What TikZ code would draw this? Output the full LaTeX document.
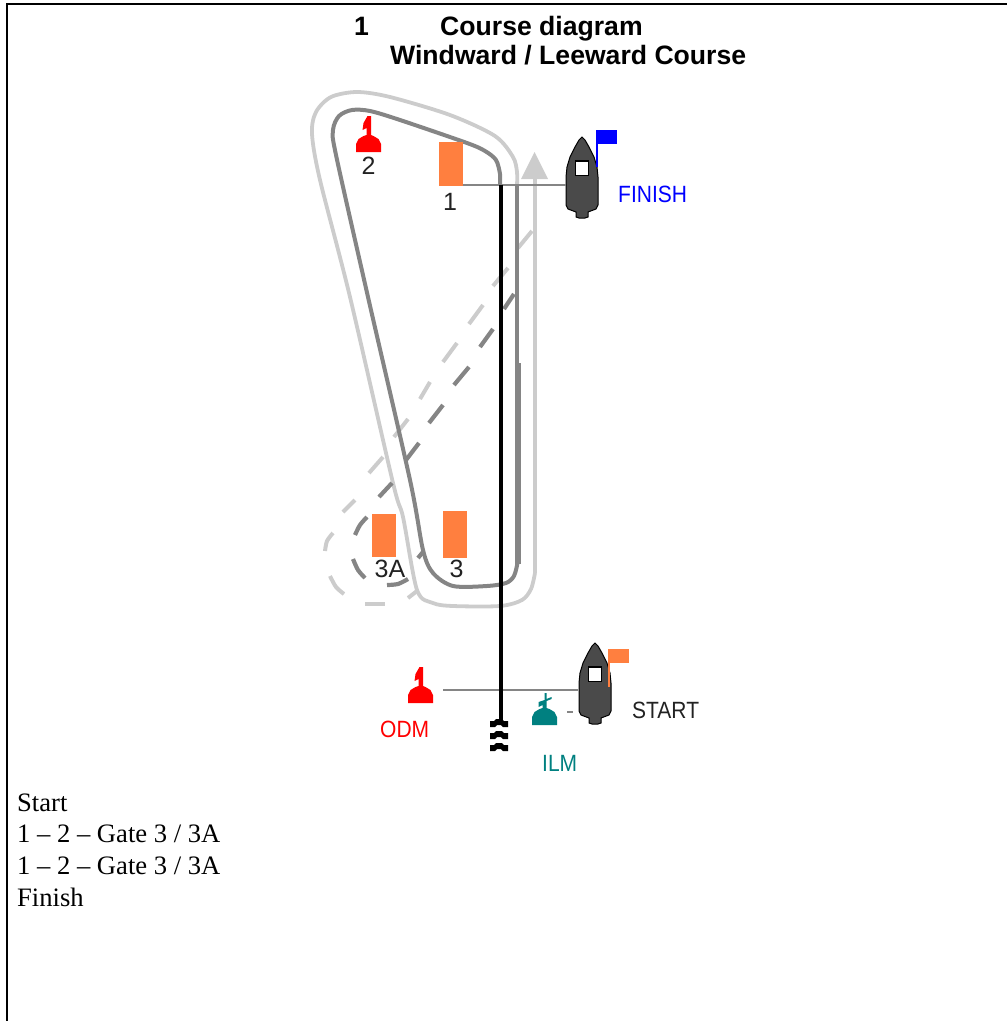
\documentclass[tikz,border=0pt]{standalone}
\usepackage{fontspec}
\setmainfont{Liberation Serif}
\newfontfamily\arialf{Liberation Sans}
\definecolor{markorange}{HTML}{FF7F3F}
\definecolor{courselight}{HTML}{CCCCCC}
\definecolor{coursedark}{HTML}{858585}
\definecolor{hull}{HTML}{4A4A4A}
\definecolor{tealbuoy}{HTML}{008080}
\definecolor{labelink}{HTML}{222222}
\newcommand{\tallchart}[1]{\scalebox{1}[1.12]{#1}}
\tikzset{
  x=1pt,y=-1pt,
  titletxt/.style={inner sep=0,anchor=base west,font=\arialf\bfseries\fontsize{26.6}{30}\selectfont,text=black},
  bodytxt/.style={inner sep=0,anchor=base west,font=\fontsize{26.6}{30}\selectfont,text=black},
  chart/.style={inner sep=0,anchor=base west,font=\arialf\fontsize{21}{24}\selectfont},
  marknum/.style={inner sep=0,anchor=base,font=\arialf\fontsize{25}{28}\selectfont,text=labelink},
  gatemark/.style={fill=markorange,draw=none,inner sep=0,minimum width=24,minimum height=#1},
  lightcourse/.style={draw=courselight,line width=3.8,line join=round},
  darkcourse/.style={draw=coursedark,line width=4,line join=round},
  lightdash/.style={draw=courselight,line width=4},
  darkdash/.style={draw=coursedark,line width=4.2},
  linegray/.style={draw=coursedark,line width=2},
  buoy/.pic={
    \fill[pic actions] (-12.5,0)--(12.5,0)--(12.5,-8)--(10,-13)--(5,-16)--(2.5,-17)--(2.5,-36)--(-1,-36)--(-5,-29)--(-6,-22)--(-2,-24)--(-2,-17)--(-5,-16)--(-10,-13)--(-12.5,-8)--cycle;
  },
  tealbuoyshape/.pic={
    \fill[pic actions] (-12.5,0)--(12.5,0)--(12.5,-8)--(10,-13)--(5,-16)--(2,-17)--(2,-24)--(7,-26)--(7,-28)--(2,-26)--(2,-32)--(0,-32)--(0,-25)--(-6,-23)--(-6,-18)--(-2,-20)--(-2,-17)--(-5,-16)--(-10,-13)--(-12.5,-8)--cycle;
  },
  boat/.pic={
    \draw[fill=hull,draw=black,line width=1] (0,0)--(3,3)--(7,10)--(12,20)--(15,30)--(16,40)--(16,68)--(14,72)--(6,75)--(6,80)--(3,81)--(-3,81)--(-6,80)--(-6,75)--(-14,72)--(-16,68)--(-16,40)--(-15,30)--(-12,20)--(-7,10)--(-3,3)--cycle;
    \draw[fill=white,draw=black,line width=1.2] (-6.5,24) rectangle (6.5,38.5);
  },
  stackarc/.pic={
    \fill[black] (-9,8)--(-9,2)--(-5,2)--(-3,0)--(3,0)--(5,2)--(9,2)--(9,8)--(4,8)--(2,6)--(-2,6)--(-4,8)--cycle;
  }
}
\begin{document}
\begin{tikzpicture}
\useasboundingbox (0,0) rectangle (1007,1021);
% table border
\draw[black,line width=2] (7,1021)--(7,4)--(1007,4);
% title
\node[titletxt] (t1) at (354,35) {1};
\node[titletxt] (t2) at (440,35) {Course diagram};
\node[titletxt] (t3) at (390,64) {Windward / Leeward Course};
% course: light loop and arrow
\draw[lightcourse] plot[smooth,tension=.5] coordinates {(517,185)(517,172)(513,157)(495,136)(450,115)(390,97)(357,92)(331,97)(316,112)(312,134)(320,180)(350,297)(393,483)(403,517)(417,590)(433,603)(453,606)(500,606)(522,600)(531,589)(535,573)};
\draw[lightcourse] (535,573)--(535,175);
\coordinate (arrowtip) at (534.5,152);
\fill[courselight] (arrowtip)--(548,179)--(521,179)--cycle;
% light dashes
\foreach \a/\b in {{532,231}/{518,248},{508,268}/{493,286},{483,305}/{469,324},{457,343}/{443,362},{430,382}/{420,399},{408,419}/{394,437},{383,457}/{369,473},{355,500}/{343,512},{417,591}/{408,598}}
  \draw[lightdash] (\a)--(\b);
\draw[lightdash] plot[smooth] coordinates {(333,533)(327,541)(325,551)};
\draw[lightdash] plot[smooth] coordinates {(330,576)(336,587)(344,594)};
\draw[lightdash] (365,604)--(385,604);
% dark dashes
\foreach \a/\b in {{514,294}/{504,309},{493,329}/{480,347},{469,367}/{454,385},{443,405}/{429,423},{419,443}/{406,460},{392,483}/{379,497},{423,552}/{418,558}}
  \draw[darkdash] (\a)--(\b);
\draw[darkdash] plot[smooth] coordinates {(367,517)(360,525)(355,535)};
\draw[darkdash] plot[smooth] coordinates {(353,559)(358,570)(365,578)};
\draw[darkdash] plot[smooth] coordinates {(387,585)(398,584)(408,579)};
% dark course
\draw[darkcourse] plot[smooth,tension=.5] coordinates {(500,185)(500,174)(496,160)(485,151)(467,143)(400,120)(370,111)(352,110)(339,116)(333,130)(336,155)(368,297)(410,480)(423,550)(433,573)(453,586)(487,586)(506,583)(514,576)(517.5,563)};
\draw[darkcourse] (516.5,185)--(516.5,365);
\draw[darkcourse,line width=6] (517.5,363)--(517.5,564);
% gate and finish marks
\node[gatemark=44] (m1) at (450.5,164) {};
\node[gatemark=47] (m3) at (454.5,534.5) {};
\node[gatemark=43] (m3a) at (384,535.5) {};
% boats
\pic (finboat) at (582,137) {boat};
\pic (startboat) at (595,643) {boat};
\coordinate (finR) at (566,185);
\coordinate (startL) at (443,690);
\coordinate (startR) at (578,690);
% flags
\fill[blue] (596.5,130) rectangle (617,143.5);
\draw[blue,line width=1.5] (597,130)--(597,167);
\fill[markorange] (608,649) rectangle (629,663);
\draw[markorange,line width=2] (609,649)--(609,687);
% finish and start lines
\draw[linegray] (m1.east |- finR)--(finR);
\draw[linegray] (startL)--(startR);
% black centre line
\coordinate (lineTop) at (500.5,185);
\coordinate (lineBottom) at (500.5,722);
\draw[black,line width=4] (lineTop)--(lineBottom);
\pic at (499,719) {stackarc};
\pic at (499,731) {stackarc};
\pic at (499,743) {stackarc};
% buoys
\pic[fill=red] at (368.5,152) {buoy};
\pic[fill=red] at (420.5,703) {buoy};
\pic[fill=tealbuoy] at (544.5,725) {tealbuoyshape};
\draw[coursedark,line width=1.5] (567,712)--(573,712);
% labels
\node[marknum] (l2) at (368.5,174) {2};
\node[marknum] (l1) at (450,210) {1};
\node[marknum] (l3a) at (390,577) {3A};
\node[marknum] (l3) at (456.5,577) {3};
\node[chart,text=blue] (lfin) at (618,202) {\tallchart{FINISH}};
\node[chart,text=labelink] (lsta) at (632,718) {\tallchart{START}};
\node[chart,text=red] (lodm) at (380,737) {\tallchart{ODM}};
\node[chart,text=tealbuoy] (lilm) at (542,771) {\tallchart{ILM}};
% body text
\node[bodytxt] (b1) at (17,811) {Start};
\node[bodytxt] (b2) at (17,842) {1 – 2 – Gate 3 / 3A};
\node[bodytxt] (b3) at (17,874) {1 – 2 – Gate 3 / 3A};
\node[bodytxt] (b4) at (17,906) {Finish};
\end{tikzpicture}
\end{document}
